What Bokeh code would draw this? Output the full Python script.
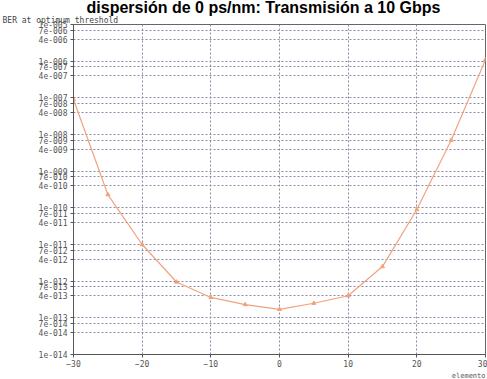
from bokeh.plotting import figure
from bokeh.models import FixedTicker, CustomJSTickFormatter, Title, Div
from bokeh.layouts import column
from bokeh.embed import file_html
from bokeh.resources import INLINE

# data
x_vals = [-30, -25, -20, -15, -10, -5, 0, 5, 10, 15, 20, 25, 30]
ber = [9e-8, 2.3e-10, 1e-11, 9.5e-13, 3.6e-13, 2.3e-13, 1.7e-13, 2.5e-13, 4.0e-13, 2.5e-12, 9e-11, 7e-9, 1.1e-6]
x_ticks = [-30, -20, -10, 0, 10, 20, 30]
y_ticks = []
for k in range(5, 15):
    y_ticks += [10.0 ** (-k), 7 * 10.0 ** (-k - 1), 4 * 10.0 ** (-k - 1)]

title_text = "dispersión de 0 ps/nm: Transmisión a 10 Gbps"
subtitle_text = "BER at optimum threshold"
x_label_text = "elemento"

TITLE_H = 12
title_div = Div(
    text=('<div style="font-family:\'Liberation Sans\';font-weight:bold;font-size:16px;'
          'line-height:16px;margin-top:0px;text-align:center;white-space:nowrap;'
          'width:487px;padding-left:40px;box-sizing:border-box;color:black">'
          + title_text + '</div>'),
    width=487, height=TITLE_H, margin=0,
    styles={"overflow": "visible"})

p = figure(width=487, height=379 - TITLE_H, y_axis_type="log", x_range=(-30, 30), y_range=(1e-14, 1e-5),
           output_backend="svg", toolbar_location=None, margin=0,
           min_border_left=73, min_border_right=2, min_border_top=24 - TITLE_H, min_border_bottom=0)
p.outline_line_color = "#666666"
p.background_fill_color = "white"
p.border_fill_alpha = 0

p.add_layout(Title(text=subtitle_text, align="left", offset=-71, standoff=0,
                   text_font="DejaVu Sans Mono", text_font_size="8px",
                   text_font_style="normal", text_color="#444444"), "above")
p.add_layout(Title(text=x_label_text, align="right", standoff=0,
                   text_font="DejaVu Sans Mono", text_font_size="7px",
                   text_font_style="normal", text_color="#555555"), "below")

p.xaxis.ticker = FixedTicker(ticks=x_ticks)
p.yaxis.ticker = FixedTicker(ticks=y_ticks)
p.yaxis.formatter = CustomJSTickFormatter(code="""
    const e = Math.floor(Math.log10(tick) + 1e-9);
    const m = Math.round(tick / Math.pow(10, e));
    let s = String(Math.abs(e));
    while (s.length < 3) s = "0" + s;
    return m + "e" + (e < 0 ? "-" : "+") + s;
""")
for ax in (p.xaxis, p.yaxis):
    ax.major_label_text_font = "DejaVu Sans Mono"
    ax.major_label_text_font_size = "8px"
    ax.major_label_text_color = "#555555"
    ax.axis_line_color = "#555555"
    ax.major_tick_line_color = "#555555"
    ax.major_tick_out = 3
    ax.major_tick_in = 0
    ax.minor_tick_line_color = None
    ax.major_label_standoff = 3
p.xaxis.major_label_standoff = 2

p.xgrid.grid_line_color = "#8a8aa8"
p.xgrid.grid_line_dash = "2 2"
p.ygrid.grid_line_color = "#8a8aa8"
p.ygrid.grid_line_dash = "2 2"
p.ygrid.minor_grid_line_color = None

p.line(x_vals, ber, line_color="#f2a27c", line_width=1.2)
p.scatter(x_vals, ber, marker="triangle", size=4, color="#f2a27c")

layout = column(title_div, p, spacing=0)
open("out.html", "w", encoding="utf-8").write(file_html(layout, INLINE))
